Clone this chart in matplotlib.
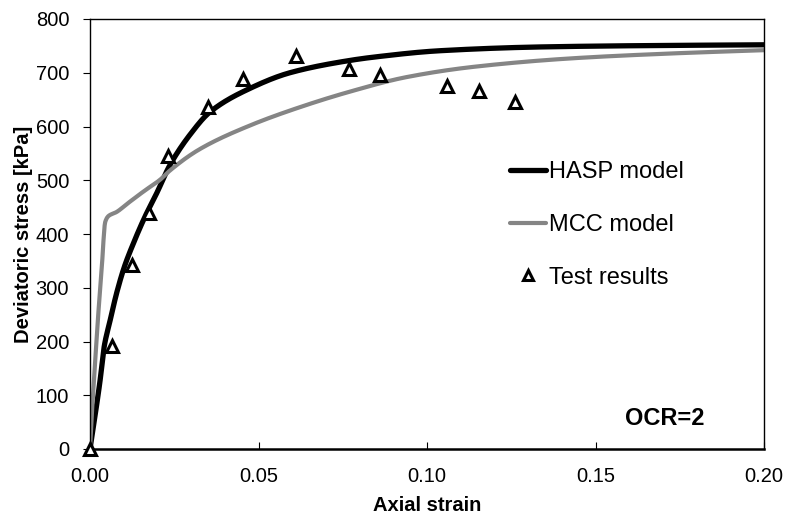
import numpy as np
import matplotlib.pyplot as plt

plt.rcParams['font.family'] = ['Liberation Sans', 'DejaVu Sans']

# HASP model curve
hasp_x = [0, 0.0015, 0.003, 0.0042, 0.006, 0.0079, 0.0102, 0.0129, 0.0163,
          0.0198, 0.0237, 0.0297, 0.0356, 0.0475, 0.0593, 0.0762, 0.0841,
          0.1039, 0.1335, 0.165, 0.2]
hasp_y = [0, 62, 128, 190, 240, 290, 339, 383, 432,
          476, 528, 585, 627, 671, 700, 722, 729,
          741, 748, 750.5, 752]

# MCC model curve
mcc_x = [0, 0.0005, 0.0015, 0.0025, 0.0035, 0.0045, 0.0054, 0.0079, 0.0114,
         0.0163, 0.0208, 0.0237, 0.0326, 0.0475, 0.0623, 0.0772, 0.094,
         0.1138, 0.1434, 0.173, 0.2]
mcc_y = [0, 60, 160, 255, 338, 422, 433, 441, 458,
         481, 501, 518, 558, 602, 636, 665, 692,
         711, 727, 736, 742]

# test results
test_x = [0.0, 0.0065, 0.0125, 0.0175, 0.023, 0.035, 0.0454, 0.0611, 0.0769,
          0.0861, 0.106, 0.1154, 0.126]
test_y = [0, 191, 342, 439, 545, 636, 688, 731, 707, 696, 675, 666, 645]


def pchip(xs, ys, n=600):
    # monotone cubic interpolation (Fritsch-Carlson)
    x = np.asarray(xs, float)
    y = np.asarray(ys, float)
    h = np.diff(x)
    d = np.diff(y) / h
    m = np.zeros_like(y)
    m[0], m[-1] = d[0], d[-1]
    for i in range(1, len(x) - 1):
        if d[i - 1] * d[i] > 0:
            w1 = 2 * h[i] + h[i - 1]
            w2 = h[i] + 2 * h[i - 1]
            m[i] = (w1 + w2) / (w1 / d[i - 1] + w2 / d[i])
    xi = np.linspace(x[0], x[-1], n)
    xi = np.unique(np.concatenate([xi, x]))
    k = np.clip(np.searchsorted(x, xi) - 1, 0, len(x) - 2)
    t = (xi - x[k]) / h[k]
    h00 = 2 * t**3 - 3 * t**2 + 1
    h10 = t**3 - 2 * t**2 + t
    h01 = -2 * t**3 + 3 * t**2
    h11 = t**3 - t**2
    yi = h00 * y[k] + h10 * h[k] * m[k] + h01 * y[k + 1] + h11 * h[k] * m[k + 1]
    return xi, yi


fig = plt.figure(figsize=(7.87, 5.18), dpi=100)
ax = fig.add_axes([90 / 787, 1 - 449 / 518, 674 / 787, 430 / 518])

hx, hy = pchip(hasp_x, hasp_y)
mx, my = pchip(mcc_x, mcc_y)
ax.plot(hx, hy, color='black', lw=3.8, label='HASP model',
        solid_capstyle='round')
ax.plot(mx, my, color='#858585', lw=3.0, label='MCC model',
        solid_capstyle='round')
ax.plot(test_x, test_y, linestyle='none', marker='^', ms=9, mfc='white',
        mec='black', mew=2.2, label='Test results', clip_on=False, zorder=5)

ax.set_xlim(0, 0.2)
ax.set_ylim(0, 800)
ax.set_xticks(np.arange(0, 0.201, 0.05))
ax.set_xticklabels(['0.00', '0.05', '0.10', '0.15', '0.20'])
ax.set_yticks(np.arange(0, 801, 100))
ax.tick_params(axis='x', direction='in', length=5, labelsize=14.5, pad=13)
ax.tick_params(axis='y', direction='out', length=5, labelsize=14.5, pad=10)
for s in ax.spines.values():
    s.set_linewidth(1.0)
ax.spines['bottom'].set_linewidth(1.8)

ax.set_xlabel('Axial strain', fontsize=14.5, fontweight='bold', labelpad=7)
ax.set_ylabel('Deviatoric stress [kPa]', fontsize=14.5, fontweight='bold', labelpad=2)

ax.legend(loc='center left', bbox_to_anchor=(0.623, 0.521), frameon=False,
          fontsize=17, handlelength=1.55, handletextpad=0.1, labelspacing=1.3,
          borderpad=0, borderaxespad=0, markerscale=0.8)

ax.text(0.911, 0.045, 'OCR=2', transform=ax.transAxes, fontsize=17,
        fontweight='bold', ha='right', va='bottom')

fig.savefig('out.png', dpi=100)
